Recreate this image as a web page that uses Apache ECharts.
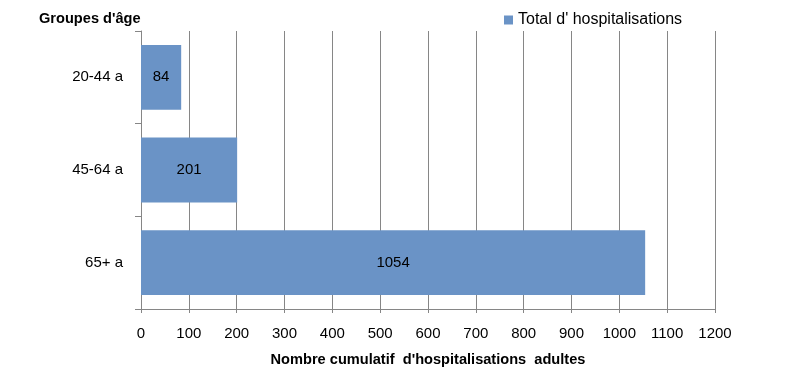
<!DOCTYPE html>
<html>
<head>
<meta charset="utf-8">
<script src="https://cdn.jsdelivr.net/npm/echarts@6/dist/echarts.min.js"></script>
<style>html,body{margin:0;padding:0;background:#fff}#c{width:800px;height:377px}</style>
</head>
<body>
<div id="c"></div>
<script>
var categories = ['20-44 a', '45-64 a', '65+ a'];
var values = [84, 201, 1054];
var seriesName = "Total d' hospitalisations";
var xMin = 0, xMax = 1200, xStep = 100;

var FONT = '"Liberation Sans", Arial, sans-serif';
var GRID = '#868686';
var chart = echarts.init(document.getElementById('c'), null, {renderer: 'canvas'});
chart.setOption({
  animation: false,
  title: {
    text: "Groupes d'âge",
    left: 34, top: 6,
    textStyle: {fontFamily: FONT, fontSize: 14.6, fontWeight: 'bold', color: '#000'}
  },
  legend: {
    data: [seriesName],
    left: 499, top: 7,
    itemWidth: 9, itemHeight: 9,
    icon: 'rect',
    textStyle: {fontFamily: FONT, fontSize: 16, color: '#000'}
  },
  grid: {left: 141, right: 85, top: 31, bottom: 68, containLabel: false},
  xAxis: {
    type: 'value', min: xMin, max: xMax, interval: xStep,
    name: "Nombre cumulatif  d'hospitalisations  adultes",
    nameLocation: 'middle', nameGap: 43,
    nameTextStyle: {fontFamily: FONT, fontSize: 14.6, fontWeight: 'bold', color: '#000'},
    axisLine: {show: true, lineStyle: {color: GRID, width: 1}},
    axisTick: {show: true, length: 4, lineStyle: {color: GRID}},
    axisLabel: {fontFamily: FONT, fontSize: 15, color: '#000', margin: 17,
      formatter: function (v) { return String(v); }},
    splitLine: {show: true, lineStyle: {color: GRID, width: 1}}
  },
  yAxis: {
    type: 'category', data: categories, inverse: true,
    axisLine: {show: true, lineStyle: {color: GRID, width: 1}},
    axisTick: {show: true, length: 6, lineStyle: {color: GRID}},
    axisLabel: {fontFamily: FONT, fontSize: 15, color: '#000', margin: 18},
    splitLine: {show: false}
  },
  series: [{
    name: seriesName, type: 'bar', data: values,
    barCategoryGap: '30%',
    itemStyle: {color: '#6A93C6'},
    label: {show: true, position: 'inside', fontFamily: FONT, fontSize: 15, color: '#000'}
  }]
});
</script>
</body>
</html>
